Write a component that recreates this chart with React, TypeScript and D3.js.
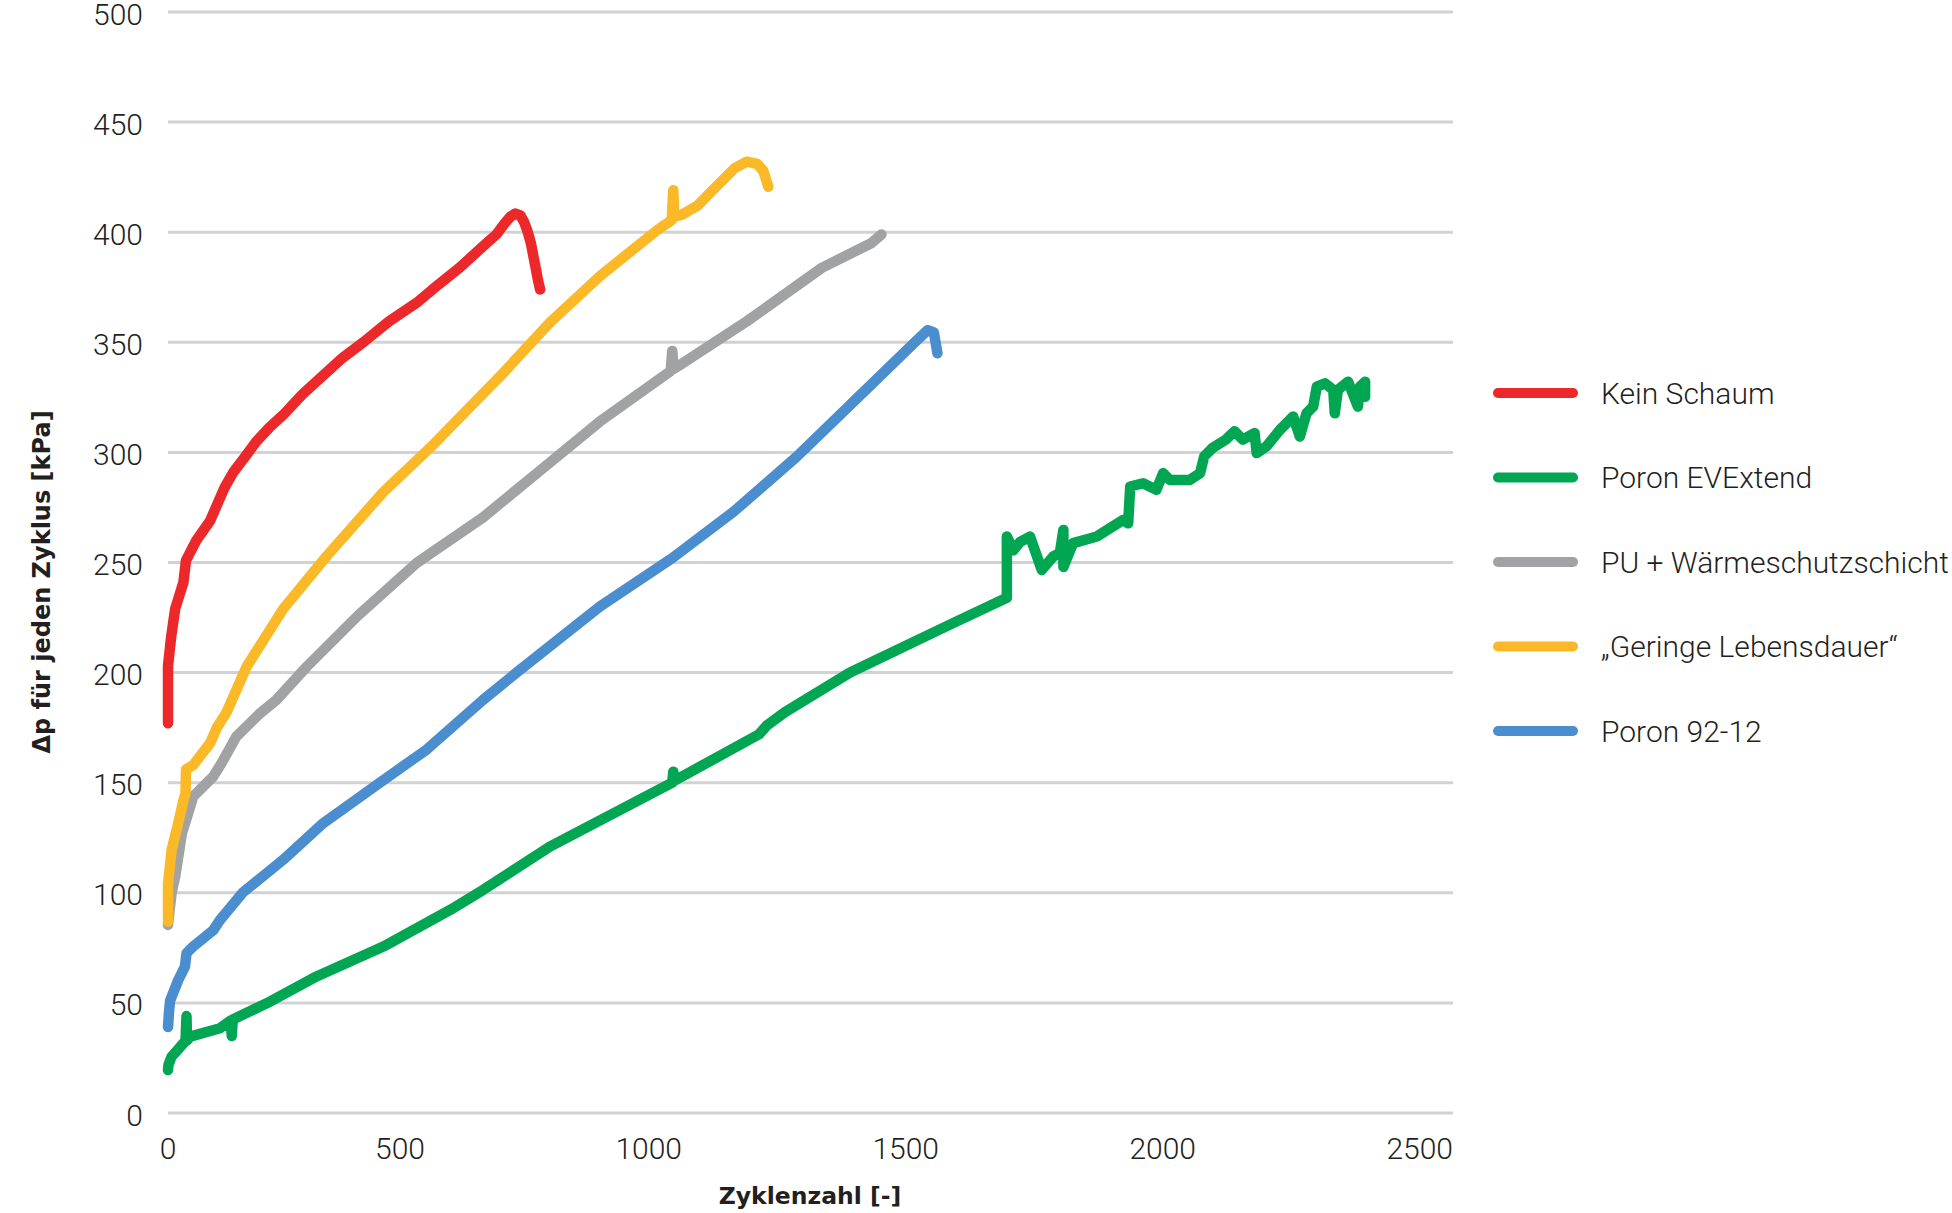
import React from "react";
import * as d3 from "d3";

const seriesNames = [
  "Kein Schaum",
  "Poron EVExtend",
  "PU + Wärmeschutzschicht",
  "„Geringe Lebensdauer“",
  "Poron 92-12",
];
const seriesColors = ["#EC282B", "#00A651", "#A0A2A4", "#FBB827", "#4B8ECF"];

const keinSchaum: [number, number][] = [
  [0, 177], [0, 203], [6, 216], [14, 229], [30, 241], [35, 251], [55, 260], [82, 269], [95, 276],
  [110, 284], [127, 291], [150, 298], [172, 305], [198, 311.5], [224, 317], [262, 326.5], [302, 335],
  [340, 343], [380, 350], [430, 359.5], [484, 368], [525, 376], [568, 384], [610, 393], [639, 399],
  [655, 404], [666, 407], [676, 408.5], [686, 407.5], [693, 404.5], [700, 400], [706, 395], [711, 389],
  [716, 383], [720, 378], [724, 374],
];
const poronEVExtend: [number, number][] = [
  [0, 19.5], [1, 22], [7, 25.6], [20, 29], [30, 31.7], [34, 32.5], [36, 44], [37, 33], [43, 34.7],
  [101, 38.5], [122, 42], [124, 35], [126, 42.5], [192, 49.8], [289, 62], [419, 75.6], [549, 92.2],
  [613, 101.3], [743, 121], [981, 150], [983, 155], [986, 151], [1150, 172], [1165, 176], [1200, 182],
  [1327, 200], [1514, 221], [1632, 234], [1632, 261.8], [1645, 255.6], [1658, 259.4], [1677, 261.8],
  [1700, 246.6], [1722, 252.7], [1735, 254.2], [1742, 264.8], [1742, 248], [1761, 258.8], [1807, 261.8],
  [1858, 269.3], [1868, 267.8], [1872, 284.5], [1897, 286], [1923, 283], [1936, 290.6], [1949, 287.5],
  [1988, 287.5], [2008, 290.6], [2016, 298.2], [2032, 302], [2058, 305.8], [2075, 309.6], [2091, 305.8],
  [2114, 308.8], [2118, 299.7], [2137, 302.7], [2163, 310.2], [2189, 316.3], [2202, 307.2], [2215, 317.8],
  [2228, 320.8], [2235, 329.9], [2251, 331.4], [2267, 328.4], [2270, 317.8], [2276, 328.4], [2296, 332.1],
  [2315, 320.8], [2319, 329.9], [2329, 332.1], [2329, 325.3],
];
const puWaermeschutz: [number, number][] = [
  [0, 85.4], [7, 100], [14, 107.3], [27, 127], [43, 139], [49, 143.7], [88, 152.8], [104, 158.8],
  [133, 171], [179, 181.5], [211, 187.6], [270, 202.7], [370, 226], [484, 249.8], [613, 270.5], [720, 291],
  [840, 314], [978, 337], [981, 346], [984, 338], [1000, 340.3], [1126, 359.5], [1272, 383.8], [1368, 395],
  [1388, 399],
];
const geringeLebensdauer: [number, number][] = [
  [0, 87], [0, 104], [7, 119.4], [20, 131.7], [30, 142], [34, 145], [35, 156], [49, 158], [82, 168],
  [95, 175], [114, 182], [153, 202.7], [224, 228.9], [309, 253], [419, 282], [516, 303.5], [652, 336],
  [743, 359], [840, 380], [952, 401], [980, 405.5], [983, 419], [985, 407], [1000, 408], [1030, 412],
  [1066, 420.6], [1102, 429], [1126, 432], [1146, 431], [1158, 428], [1168, 420.6],
];
const poron9212: [number, number][] = [
  [0, 39], [2, 46], [4, 51], [20, 60.4], [33, 66.5], [36, 72.6], [49, 75.6], [88, 83], [101, 87.6],
  [145, 100], [224, 115], [302, 131.6], [412, 150], [503, 165], [613, 187.6], [678, 200], [840, 230],
  [981, 252], [1100, 273], [1223, 298], [1369, 331], [1453, 350], [1478, 355.5], [1490, 354.5], [1497, 345],
];

const seriesData = [keinSchaum, poronEVExtend, puWaermeschutz, geringeLebensdauer, poron9212];

const xTicks = [0, 500, 1000, 1500, 2000, 2500];
const yTicks = [0, 50, 100, 150, 200, 250, 300, 350, 400, 450, 500];

const xTitle = "Zyklenzahl [-]";
const yTitle = "Δp für jeden Zyklus [kPa]";

export default function App() {
  const W = 1952;
  const H = 1213;
  const x = d3.scaleLinear().domain([0, 2500]).range([168, 1453]);
  const y = d3.scaleLinear().domain([0, 500]).range([1113, 12]);
  const line = d3
    .line<[number, number]>()
    .x((d) => x(d[0]))
    .y((d) => y(d[1]));

  const tickFont = "Roboto, 'Liberation Sans', sans-serif";
  const titleFont = "'DejaVu Sans', sans-serif";

  const legendX0 = 1498;
  const legendX1 = 1573;
  const legendY0 = 393;
  const legendStep = 84.5;

  return (
    <svg
      width={W}
      height={H}
      style={{ position: "absolute", left: 0, top: 0, background: "#fff" }}
    >
      <rect x={0} y={0} width={W} height={H} fill="#fff" />
      {yTicks.map((t) => (
        <line
          key={"g" + t}
          x1={x(0)}
          x2={x(2500)}
          y1={y(t)}
          y2={y(t)}
          stroke="#D2D2D2"
          strokeWidth={3}
        />
      ))}
      {yTicks.map((t) => (
        <text
          key={"yl" + t}
          x={143}
          y={y(t) + 12.5}
          textAnchor="end"
          fontFamily={tickFont}
          fontWeight={300}
          fontSize={30}
          fill="#231F20"
        >
          {t}
        </text>
      ))}
      {xTicks.map((t, i) => (
        <text
          key={"xl" + t}
          x={x(t)}
          y={1159}
          textAnchor={i === 0 ? "middle" : "end"}
          fontFamily={tickFont}
          fontWeight={300}
          fontSize={30}
          fill="#231F20"
        >
          {t}
        </text>
      ))}
      <text
        x={810}
        y={1204}
        textAnchor="middle"
        fontFamily={titleFont}
        fontWeight="bold"
        fontSize={23.5}
        fill="#231F20"
      >
        {xTitle}
      </text>
      <text
        transform={`translate(50,582) rotate(-90)`}
        textAnchor="middle"
        fontFamily={titleFont}
        fontWeight="bold"
        fontSize={24}
        fill="#231F20"
      >
        {yTitle}
      </text>
      {seriesData.map((d, i) => (
        <path
          key={"s" + i}
          d={line(d) || ""}
          fill="none"
          stroke={seriesColors[i]}
          strokeWidth={10.5}
          strokeLinecap="round"
          strokeLinejoin="round"
        />
      ))}
      {seriesNames.map((n, i) => (
        <g key={"lg" + i}>
          <line
            x1={legendX0}
            x2={legendX1}
            y1={legendY0 + i * legendStep}
            y2={legendY0 + i * legendStep}
            stroke={seriesColors[i]}
            strokeWidth={10}
            strokeLinecap="round"
          />
          <text
            x={1601}
            y={legendY0 + i * legendStep + 10.5}
            fontFamily={tickFont}
            fontWeight={300}
            fontSize={30}
            fill="#231F20"
          >
            {n}
          </text>
        </g>
      ))}
    </svg>
  );
}
